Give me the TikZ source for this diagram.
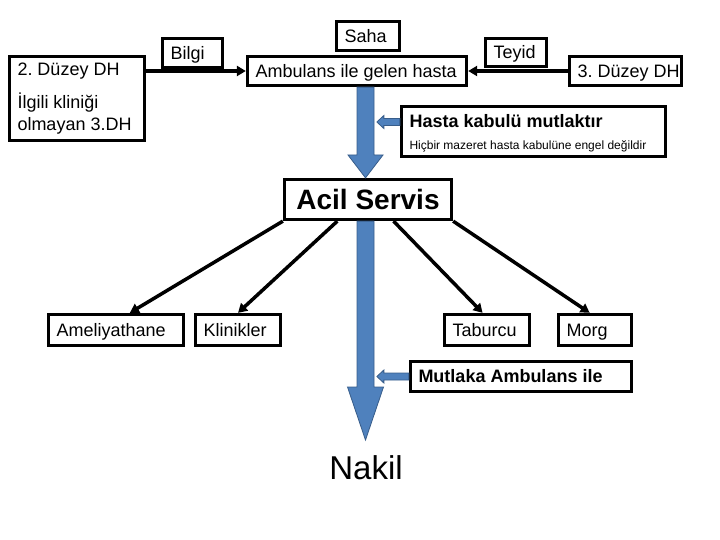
\documentclass[tikz,border=0pt]{standalone}
\usepackage{fontspec}
\setmainfont{Liberation Sans}
\usetikzlibrary{arrows.meta,calc}
\definecolor{blockblue}{RGB}{79,129,189}
\definecolor{blockedge}{RGB}{56,93,138}
\newcommand\lefttext[2]{\makebox[#1][l]{#2}}
\begin{document}
\frenchspacing
\begin{tikzpicture}[x=1pt,y=-1pt,
  box/.style={draw,line width=3.3pt,inner xsep=8pt,inner ysep=0pt,
    font=\fontsize{18}{21.6}\selectfont,text height=12.9pt,text depth=0pt},
  conn/.style={line width=3.5pt,-{Triangle[length=9pt,width=10pt]}},
  blk/.style={fill=blockblue,draw=blockedge,line width=0.8pt,line join=miter}]
\useasboundingbox (0,0) rectangle (720,540);
% nodes
\node[box,minimum width=135pt,minimum height=84pt,text height=15pt,text depth=60pt] (dh2) at (77,98.5)
  {\begin{tabular}[t]{@{}l@{}}\lefttext{119pt}{2. Düzey DH}\\[10.4pt]İlgili kliniği\\olmayan 3.DH\end{tabular}};
\node[box,minimum width=60pt,minimum height=29pt] (bilgi) at (192.5,53) {\lefttext{44pt}{Bilgi}};
\node[box,minimum width=219pt,minimum height=29pt] (amb) at (357,71) {\lefttext{203pt}{Ambulans ile gelen hasta}};
\node[box,minimum width=63pt,minimum height=29pt] (saha) at (368,36) {\lefttext{47pt}{Saha}};
\node[box,minimum width=61pt,minimum height=28pt] (teyid) at (516,52.5) {\lefttext{45pt}{Teyid}};
\node[box,minimum width=112pt,minimum height=29pt] (dh3) at (625.5,71) {\lefttext{96pt}{3. Düzey DH}};
\node[box,minimum width=264pt,minimum height=50pt,text height=13pt,text depth=20pt] (kabul) at (533.5,131.5)
  {\begin{tabular}[t]{@{}l@{}}\lefttext{248pt}{\bfseries Hasta kabulü mutlaktır}\\[0.4pt]{\fontsize{12}{14}\selectfont Hiçbir mazeret hasta kabulüne engel değildir}\end{tabular}};
\node[box,minimum width=167pt,minimum height=40pt,text height=20pt,font=\fontsize{28}{33}\selectfont\bfseries] (acil) at (368,199.5) {Acil Servis};
\node[box,minimum width=135pt,minimum height=31pt] (amel) at (116,330) {\lefttext{119pt}{Ameliyathane}};
\node[box,minimum width=85pt,minimum height=31pt] (klin) at (238,330) {\lefttext{69pt}{Klinikler}};
\node[box,minimum width=85pt,minimum height=31pt] (tab) at (487,330) {\lefttext{69pt}{Taburcu}};
\node[box,minimum width=73pt,minimum height=31pt] (morg) at (595,330) {\lefttext{57pt}{Morg}};
\node[box,minimum width=221pt,minimum height=30pt] (mutl) at (521,376.5) {\lefttext{205pt}{\bfseries Mutlaka Ambulans ile}};
\node[font=\fontsize{33}{40}\selectfont,inner sep=0pt] (nakil) at (366,468) {Nakil};
% connectors
\draw[conn] (dh2.east |- amb.west) -- (amb.west);
\draw[conn] (dh3.west) -- (amb.east);
\draw[conn] (acil.south west) -- ($(amel.north west)!0.6!(amel.north east)$);
\draw[conn] ($(acil.south west)!0.32!(acil.south east)$) -- (klin.north);
\draw[conn] ($(acil.south west)!0.65!(acil.south east)$) -- ($(tab.north west)!0.45!(tab.north east)$);
\draw[conn] (acil.south east) -- ($(morg.north west)!0.43!(morg.north east)$);
% big block arrows
\coordinate (axis) at (365.5,0);
\coordinate (a1top) at (axis |- amb.south);
\coordinate (a1tip) at (axis |- acil.north);
\coordinate (a1base) at (365.5,155);
\draw[blk] ($(a1top)+(-8.5,0)$) -- ($(a1top)+(8.5,0)$) -- ($(a1base)+(8.5,0)$) -- ($(a1base)+(17.5,0)$)
  -- (a1tip) -- ($(a1base)+(-17.5,0)$) -- ($(a1base)+(-8.5,0)$) -- cycle;
\coordinate (a2top) at (axis |- acil.south);
\coordinate (a2base) at (365.5,387);
\coordinate (a2tip) at (365.5,440);
\draw[blk] ($(a2top)+(-8.5,0)$) -- ($(a2top)+(8.5,0)$) -- ($(a2base)+(8.5,0)$) -- ($(a2base)+(18,0)$)
  -- (a2tip) -- ($(a2base)+(-18,0)$) -- ($(a2base)+(-8.5,0)$) -- cycle;
% small block arrows
\coordinate (s1) at ($(kabul.west)+(0,-9.5)$);
\draw[blk] ($(s1)+(0,-3.5)$) -- ($(s1)+(-16,-3.5)$) -- ($(s1)+(-16,-6.5)$) -- ($(s1)+(-23,0)$)
  -- ($(s1)+(-16,6.5)$) -- ($(s1)+(-16,3.5)$) -- ($(s1)+(0,3.5)$) -- cycle;
\coordinate (s2) at (mutl.west);
\draw[blk] ($(s2)+(0,-3.5)$) -- ($(s2)+(-25,-3.5)$) -- ($(s2)+(-25,-6.5)$) -- ($(s2)+(-32,0)$)
  -- ($(s2)+(-25,6.5)$) -- ($(s2)+(-25,3.5)$) -- ($(s2)+(0,3.5)$) -- cycle;
\end{tikzpicture}
\end{document}
